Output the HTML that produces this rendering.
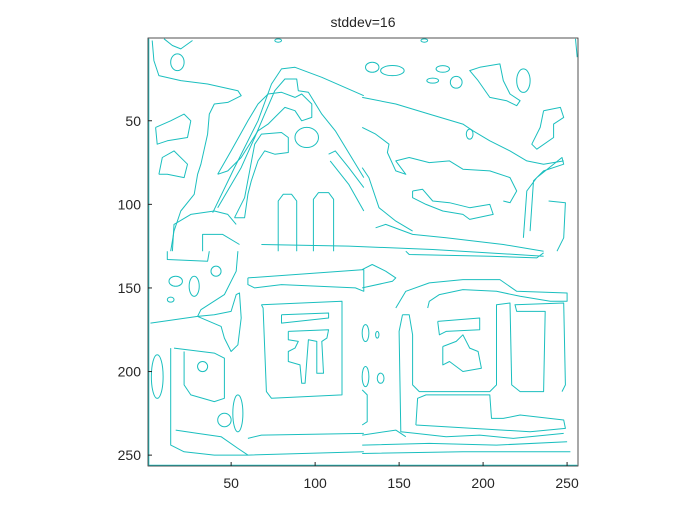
<!DOCTYPE html>
<html><head><meta charset="utf-8"><style>
body{margin:0;background:#fff;}
svg{display:block;font-family:"Liberation Sans",sans-serif;}
</style></head><body>
<svg id="chart" width="700" height="525" viewBox="0 0 700 525">
<rect x="0" y="0" width="700" height="525" fill="#fff"/>
<text x="363" y="27" font-size="14" text-anchor="middle" fill="#262626">stddev=16</text>
<defs><clipPath id="clip"><rect x="148" y="38" width="430" height="428"/></clipPath></defs>
<g id="marks" clip-path="url(#clip)"></g>
<rect x="148" y="38" width="430" height="428" fill="none" stroke="#262626" stroke-width="0.8"/>
<g id="axes"></g>
</svg>
<script>
const xTicks=[50,100,150,200,250];
const yTicks=[50,100,150,200,250];
const contours=[
 [[10,1],[15,5],[20,7],[27,2]],
 [[3,2],[4,14],[7,23],[20,26],[36,28],[54,32],[56,35],[48,39],[40,40],[37,46],[36,58],[32,76],[30,82],[28,94],[20,104],[16,116],[14,128]],
 [[5,54],[14,50],[22,46],[26,50],[24,60],[12,62],[6,64],[5,54]],
 [[7,82],[9,72],[16,68],[24,76],[22,84],[12,82],[7,82]],
 [[39,105],[52,78],[66,50],[74,28],[80,19],[88,18],[104,24],[129,35]],
 [[42,102],[56,78],[64,60],[70,46],[76,32],[82,25],[89,25],[90,32],[96,33],[104,46],[112,56],[129,84]],
 [[42,82],[50,68],[60,50],[66,40],[72,34],[80,33],[88,36],[92,34],[98,40],[98,48],[92,50],[88,44],[82,42],[76,48],[72,52],[66,56],[56,72],[48,80],[42,82]],
 [[52,108],[58,96],[64,64],[68,58],[80,57],[84,60],[84,69],[76,70],[70,68],[66,74],[62,86],[60,94],[58,108],[52,108]],
 [[108,70],[112,68],[120,78],[129,90]],
 [[109,74],[120,88],[129,104]],
 [[78,128],[78,98],[81,94],[86,94],[89,98],[89,128]],
 [[99,128],[99,97],[102,93],[108,93],[111,97],[111,128]],
 [[15,128],[16,112],[26,106],[40,104],[48,106],[53,112]],
 [[33,128],[33,118],[45,118],[55,124]],
 [[128,36],[148,40],[168,46],[188,52],[194,56],[204,62],[216,68],[226,74],[236,76],[248,74]],
 [[128,54],[136,58],[144,64],[143,69],[148,80],[154,82],[148,74],[156,72],[168,75],[180,74],[188,79],[204,80],[216,84],[220,92],[216,99],[212,98]],
 [[128,78],[132,84],[138,102],[148,110],[158,116]],
 [[136,114],[142,112],[158,118],[178,120],[212,124],[236,128]],
 [[228,116],[230,86],[236,80],[248,76],[247,72],[232,84],[226,92],[224,120]],
 [[158,92],[164,91],[170,98],[180,99],[192,102],[204,100],[206,106],[192,109],[188,106],[176,104],[166,100],[158,96],[158,92]],
 [[198,18],[210,16],[212,26],[216,34],[222,38],[220,41],[214,38],[204,36],[197,26],[192,20],[198,18]],
 [[236,44],[246,42],[248,48],[242,52],[242,60],[232,67],[229,64],[234,54],[236,44]],
 [[239,98],[249,99],[248,120],[244,128]],
 [[12,128],[12,133],[36,134],[37,128]],
 [[54,128],[53,140],[46,154],[32,163],[30,167],[2,171]],
 [[30,167],[40,166],[50,164],[53,154],[55,153],[56,168],[54,184],[50,188],[46,180],[44,173],[30,167]],
 [[16,186],[40,189],[46,192],[46,216],[40,218],[26,214],[22,208],[22,188]],
 [[14,186],[14,244],[22,248],[40,250],[60,250]],
 [[17,235],[30,237],[44,239],[54,246],[60,250],[129,248]],
 [[60,240],[68,238],[129,237]],
 [[68,160],[116,158],[116,214],[74,216],[71,212],[69,162],[68,160]],
 [[80,166],[108,165],[108,168],[80,171],[80,166]],
 [[84,176],[108,175],[107,180],[104,182],[105,201],[101,201],[101,182],[96,181],[94,207],[92,207],[91,196],[84,194],[84,188],[88,186],[90,182],[84,181],[84,176]],
 [[60,144],[129,139],[129,152],[124,150],[80,148],[64,150],[60,148],[60,144]],
 [[154,128],[156,130],[204,131],[232,132],[236,129]],
 [[128,139],[134,136],[142,140],[148,144],[146,146],[128,150]],
 [[148,162],[154,152],[168,147],[188,145],[210,145],[220,152],[250,153],[250,158],[240,158],[222,155],[208,152],[188,151],[174,154],[168,158],[167,162]],
 [[152,166],[156,166],[158,178],[158,208],[162,212],[204,212],[208,208],[208,160],[216,159],[217,208],[222,212],[236,212],[237,164],[220,164],[219,160],[248,159],[249,208],[247,212]],
 [[152,166],[150,176],[151,236],[160,237],[178,239],[198,238],[218,240],[248,237]],
 [[160,232],[161,216],[166,214],[204,214],[205,228],[212,228],[222,226],[248,229],[249,234],[228,236],[160,232]],
 [[173,170],[198,168],[198,175],[178,176],[174,178],[173,170]],
 [[176,185],[184,182],[188,178],[192,186],[197,188],[199,198],[188,200],[180,194],[176,196],[176,185]],
 [[128,238],[148,235],[154,239]],
 [[128,244],[168,243],[208,244],[250,242]],
 [[128,249],[188,248],[252,248]],
 [[128,211],[131,214],[131,230],[128,232]],
 [[68,124],[120,125],[170,127],[236,131]],
 [[1,1],[1,256]],
 [[1,256],[256,256]],
 [[255,1],[256,12]]
];
const blobCx=[18,95,146,134,184,170,176,224,54,46,6,17,28,41,33,14,130,130,139,137,192,78,165];
const blobCy=[15,60,20,18,27,26,19,26,225,229,203,146,149,140,197,157,177,203,204,178,58,2,2];
const blobRx=[4,7,7,4,3.5,3.5,4,4,3,4,3.5,4,3,3,3,2,2,2,2,1,2,2,2];
const blobRy=[5,6,3,3,3.5,1.5,2,7,11,4,13,3,6,3,3,1.5,5,6,3,2,3,1,1];
const x0=148,x1=578,y0=38,y1=466,d0=0.5,d1=256.5;
function sx(v){return x0+(v-d0)/(d1-d0)*(x1-x0);}
function sy(v){return y0+(v-d0)/(d1-d0)*(y1-y0);}
const NS="http://www.w3.org/2000/svg";
const g=document.getElementById('marks');
contours.forEach((c,i)=>{
 const p=document.createElementNS(NS,'polyline');
 
 
 p.setAttribute('points',c.map(q=>sx(q[0]).toFixed(1)+','+sy(q[1]).toFixed(1)).join(' '));
 p.setAttribute('fill','none');p.setAttribute('stroke','#1bbfbf');p.setAttribute('stroke-width','1');
 p.setAttribute('stroke-linejoin','round');
 g.appendChild(p);
});
blobCx.forEach((c,i)=>{
 const e=document.createElementNS(NS,'ellipse');
 
 
 e.setAttribute('cx',sx(c));e.setAttribute('cy',sy(blobCy[i]));
 e.setAttribute('rx',blobRx[i]*1.68);e.setAttribute('ry',blobRy[i]*1.68);
 e.setAttribute('fill','none');e.setAttribute('stroke','#1bbfbf');e.setAttribute('stroke-width','1');
 g.appendChild(e);
});
const a=document.getElementById('axes');
xTicks.forEach(t=>{
 const l=document.createElementNS(NS,'line');
 
 
 l.setAttribute('x1',sx(t));l.setAttribute('x2',sx(t));l.setAttribute('y1',y1);l.setAttribute('y2',y1-4);
 l.setAttribute('stroke','#262626');a.appendChild(l);
 const tx=document.createElementNS(NS,'text');
 
 
 tx.setAttribute('x',sx(t));tx.setAttribute('y',488);tx.setAttribute('font-size','14');
 tx.setAttribute('text-anchor','middle');tx.setAttribute('fill','#262626');tx.textContent=t;a.appendChild(tx);
});
yTicks.forEach(t=>{
 const l=document.createElementNS(NS,'line');
 
 
 l.setAttribute('x1',x0);l.setAttribute('x2',x0+4);l.setAttribute('y1',sy(t));l.setAttribute('y2',sy(t));
 l.setAttribute('stroke','#262626');a.appendChild(l);
 const tx=document.createElementNS(NS,'text');
 
 
 tx.setAttribute('x',141);tx.setAttribute('y',sy(t)+5);tx.setAttribute('font-size','14');
 tx.setAttribute('text-anchor','end');tx.setAttribute('fill','#262626');tx.textContent=t;a.appendChild(tx);
});
</script>
</body></html>
